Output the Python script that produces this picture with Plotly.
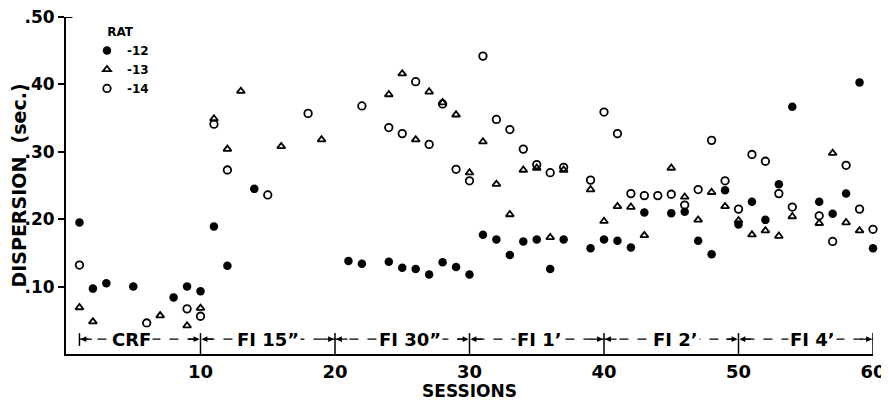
import plotly.graph_objects as go

# ---- data ----
rat12_sessions = [1, 2, 3, 5, 8, 9, 10, 11, 12, 14, 21, 22, 24, 25, 26, 27, 28, 29, 30,
                  31, 32, 33, 34, 35, 36, 37, 39, 40, 41, 42, 43, 45, 46, 47, 48, 49, 50,
                  51, 52, 53, 54, 56, 57, 58, 59, 60]
rat12_values = [0.195, 0.097, 0.105, 0.100, 0.084, 0.100, 0.093, 0.189, 0.131, 0.245,
                0.138, 0.134, 0.137, 0.128, 0.126, 0.118, 0.136, 0.129, 0.118,
                0.177, 0.170, 0.147, 0.167, 0.170, 0.126, 0.170, 0.157, 0.170,
                0.168, 0.158, 0.210, 0.209, 0.211, 0.168, 0.148, 0.243, 0.192,
                0.226, 0.199, 0.252, 0.367, 0.226, 0.208, 0.238, 0.403, 0.157]

rat13_sessions = [1, 2, 7, 9, 10, 11, 12, 13, 16, 19, 24, 25, 26, 27, 28, 29, 30,
                  31, 32, 33, 34, 35, 36, 37, 39, 40, 41, 42, 43, 45, 46, 47, 48, 49, 50,
                  51, 52, 53, 54, 56, 57, 58, 59]
rat13_values = [0.069, 0.048, 0.057, 0.042, 0.068, 0.349, 0.304, 0.390, 0.308, 0.318,
                0.385, 0.416, 0.318, 0.389, 0.373, 0.355, 0.269,
                0.315, 0.252, 0.207, 0.273, 0.276, 0.173, 0.273, 0.244, 0.197,
                0.219, 0.218, 0.176, 0.276, 0.233, 0.199, 0.240, 0.219, 0.198,
                0.177, 0.183, 0.175, 0.204, 0.194, 0.298, 0.195, 0.183]

rat14_sessions = [1, 6, 9, 10, 11, 12, 15, 18, 22, 24, 25, 26, 27, 28, 29, 30,
                  31, 32, 33, 34, 35, 36, 37, 39, 40, 41, 42, 43, 44, 45, 46, 47, 48, 49, 50,
                  51, 52, 53, 54, 56, 57, 58, 59, 60]
rat14_values = [0.132, 0.046, 0.067, 0.056, 0.341, 0.273, 0.236, 0.357, 0.368,
                0.336, 0.327, 0.404, 0.311, 0.371, 0.274, 0.257,
                0.442, 0.348, 0.333, 0.304, 0.281, 0.269, 0.277, 0.258, 0.359,
                0.327, 0.238, 0.235, 0.235, 0.237, 0.221, 0.244, 0.317, 0.257, 0.215,
                0.296, 0.286, 0.238, 0.218, 0.205, 0.167, 0.280, 0.215, 0.185]

phase_names = ["CRF", "FI 15\u201d", "FI 30\u201d", "FI 1\u2019", "FI 2\u2019", "FI 4\u2019"]
phase_bounds = [1, 10, 20, 30, 40, 50, 60]
phase_label_x = [4.9, 15.0, 25.6, 35.2, 45.3, 55.5]

x_ticks = [10, 20, 30, 40, 50, 60]
y_ticks = [0.10, 0.20, 0.30, 0.40, 0.50]
y_ticktext = [".10", ".20", ".30", ".40", ".50"]

FONT = "DejaVu Sans"
row_y = 0.022

fig = go.Figure()
fig.add_trace(go.Scatter(x=rat12_sessions, y=rat12_values, mode="markers", name="-12",
                         marker=dict(symbol="circle", size=8.5, color="black"),
                         cliponaxis=False))
fig.add_trace(go.Scatter(x=rat13_sessions, y=rat13_values, mode="markers", name="-13",
                         marker=dict(symbol="triangle-up-open", size=7, color="black",
                                     line=dict(width=1.8, color="black")),
                         cliponaxis=False))
fig.add_trace(go.Scatter(x=rat14_sessions, y=rat14_values, mode="markers", name="-14",
                         marker=dict(symbol="circle-open", size=7.5, color="black",
                                     line=dict(width=1.8, color="black")),
                         cliponaxis=False))

shapes = []
# dashed phase line
shapes.append(dict(type="line", xref="x", yref="y", x0=phase_bounds[0], x1=phase_bounds[-1],
                   y0=row_y, y1=row_y, line=dict(color="black", width=1.2, dash="dash")))
# boundary ticks
for b in phase_bounds:
    y0 = 0.012 if b == phase_bounds[0] else 0.0
    shapes.append(dict(type="line", xref="x", yref="y", x0=b, x1=b, y0=y0, y1=0.031,
                       line=dict(color="black", width=1.5)))
# small tick at the top of the y axis pointing inward
shapes.append(dict(type="line", xref="paper", yref="y", x0=0, x1=0.008, y0=0.5, y1=0.5,
                   line=dict(color="black", width=2)))

annotations = []
for name, lx in zip(phase_names, phase_label_x):
    annotations.append(dict(x=lx, y=row_y, xref="x", yref="y", text="<b>" + name + "</b>",
                            showarrow=False, bgcolor="white", borderpad=1,
                            font=dict(family=FONT, size=18, color="black")))
# arrowheads at the boundaries
for i, b in enumerate(phase_bounds):
    sides = []
    if i > 0:
        sides.append(-14)  # arrow coming from the left
    if i < len(phase_bounds) - 1:
        sides.append(14)   # arrow coming from the right
    for s in sides:
        annotations.append(dict(x=b, y=row_y, xref="x", yref="y", ax=s, ay=0,
                                showarrow=True, arrowhead=2, arrowsize=0.9, arrowwidth=1.3,
                                arrowcolor="black", text="", standoff=1))

# the page adds an 8px body margin, so the figure is 8px smaller and shifted
fig.update_layout(
    width=881, height=393,
    margin=dict(l=58, r=16, t=9, b=47),
    paper_bgcolor="white", plot_bgcolor="white",
    font=dict(family=FONT, color="black"),
    showlegend=True,
    legend=dict(x=0.026, y=0.99, xanchor="left", yanchor="top",
                title=dict(text="<b>RAT</b>", side="top center",
                           font=dict(family=FONT, size=12)),
                font=dict(family=FONT, size=12, weight="bold"),
                itemwidth=30, tracegroupgap=0, bgcolor="rgba(0,0,0,0)"),
    xaxis=dict(range=[0, 60], showline=True, linecolor="black", linewidth=2,
               ticks="", tickvals=x_ticks, showgrid=False, zeroline=False, automargin=False,
               ticklabeloverflow="allow",
               tickfont=dict(family=FONT, size=18, weight="bold"),
               title=dict(text="<b>SESSIONS</b>", font=dict(family=FONT, size=17), standoff=4)),
    yaxis=dict(range=[0, 0.5], showline=True, linecolor="black", linewidth=2,
               ticks="outside", ticklen=6, tickwidth=2, tickcolor="black",
               tickvals=y_ticks, ticktext=y_ticktext, showgrid=False, zeroline=False,
               automargin=False, ticklabeloverflow="allow",
               tickfont=dict(family=FONT, size=17, weight="bold"),
               title=dict(text="<b>DISPERSION  (sec.)</b>", font=dict(family=FONT, size=19),
                          standoff=2)),
    shapes=shapes, annotations=annotations,
)

fig.write_html("out.html")
